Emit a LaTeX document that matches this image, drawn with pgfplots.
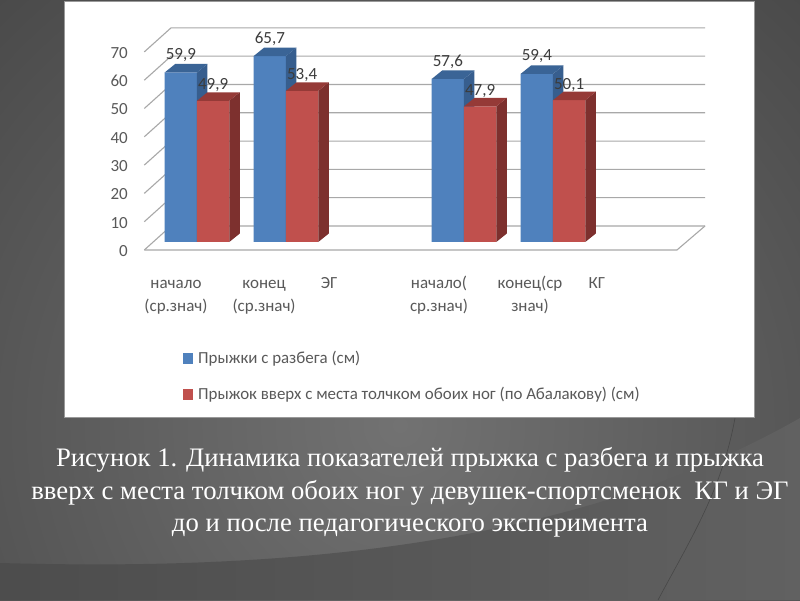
\documentclass[border=0pt]{standalone}
\usepackage{fontspec}
\setmainfont{Carlito}
\newfontfamily\capfont{Liberation Serif}
\usepackage{pgfplots}
\usepackage{pgfplotstable}
\pgfplotsset{compat=1.18}

\definecolor{bluefront}{HTML}{4F81BD}
\definecolor{bluetop}{HTML}{3A6496}
\definecolor{blueside}{HTML}{375E8E}
\definecolor{redfront}{HTML}{C0504D}
\definecolor{redtop}{HTML}{953A37}
\definecolor{redside}{HTML}{7D302E}
\definecolor{gridgray}{HTML}{A8A8A8}
\definecolor{labelgray}{HTML}{595959}
\definecolor{valuegray}{HTML}{3C3C3C}
\definecolor{bgcentre}{HTML}{727272}
\definecolor{bgedge}{HTML}{363636}

% x: group position, v: value
\pgfplotstableread{
x v
0 59.9
1 65.7
3 57.6
4 59.4
}\razbeg
\pgfplotstableread{
x v
0 49.9
1 53.4
3 47.9
4 50.1
}\abalakov

\pgfplotsset{
  face/.style={forget plot, no markers, draw=none, fill=#1, unbounded coords=jump},
  bars/.style={ybar, bar width=32.3pt, draw=none, fill=#1, nodes near coords},
}
% same first line height for all category labels
\newcommand\fl{\rule{0pt}{14pt}}

\begin{document}
\begin{tikzpicture}[x=1pt,y=1pt]
\useasboundingbox (0,0) rectangle (800,600);
\begin{scope}
  \clip (0,0) rectangle (800,600);
  \fill[bgedge] (0,0) rectangle (800,600);
  \shade[inner color=bgcentre, outer color=bgedge] (400,175) circle (880);
  % swoosh along the bottom of the slide
  \shade[left color=black!70, right color=black!62] (0,37) .. controls (250,30) and (560,45) .. (800,182) -- (800,0) -- (0,0) -- cycle;
  \draw[black!72, line width=0.6pt] (735,182) .. controls (722,110) and (690,60) .. (658,0);
\end{scope}
\fill[white] (64,182) rectangle (754.5,598);
\draw[black!40, line width=1pt] (64,182) rectangle (754.5,598);

\begin{axis}[
    at={(144.3pt,350pt)}, anchor=south west,
    scale only axis,
    x=89pt, y=2.83pt,
    xmin=-0.592, xmax=5.393,
    ymin=-2.83, ymax=76,
    clip=false,
    axis line style={draw=none},
    major tick length=0pt,
    xtick={0,0.99,1.72,2.955,3.978,4.73},
    xticklabels={{\fl начало\\(ср.знач)},{\fl конец\\(ср.знач)},{\fl ЭГ},{\fl начало(\\ср.знач)},{\fl конец(ср\\знач)},{\fl КГ}},
    x tick label style={anchor=north, align=center, xshift=-21pt, yshift=-21pt,
      text=labelgray, font=\fontsize{17}{23}\selectfont},
    ytick={0,10,...,70},
    y tick label style={yshift=-9pt, xshift=-13pt, text=labelgray, font=\fontsize{17}{20}\selectfont},
    /pgf/number format/.cd, fixed, precision=1, use comma, assume math mode=true, /pgfplots/.cd,
    nodes near coords style={anchor=center, text=valuegray,
      font=\fontsize{17}{20}\selectfont},
    legend style={at={(0.0727,-0.445)}, anchor=north west, draw=none, fill=none,
      row sep=18pt, inner sep=0pt, font=\fontsize{16.9}{20}\selectfont, text=labelgray},
    legend cell align=left,
    legend image code/.code={\fill[#1] (0pt,-5.5pt) rectangle (10pt,5.5pt);},
  ]
  % back wall, side wall and floor
  \pgfplotsinvokeforeach{0,10,...,70}{
    \draw[gridgray, line width=1.1pt] ([yshift=-8pt]axis cs:-0.592,#1) -- ([yshift=16pt]axis cs:-0.292,#1) -- ([yshift=16pt]axis cs:5.708,#1);
  }
  \draw[gridgray, line width=1.1pt] ([yshift=-8pt]axis cs:-0.592,0) -- ([yshift=-8pt]axis cs:5.393,0) -- ([yshift=16pt]axis cs:5.708,0);

  % blue bars: front, side, top
  \addplot[bars=bluefront, bar shift=-16.15pt,
    nodes near coords style={xshift=-16.15pt, yshift=17.5pt}] table[x=x, y=v] {\razbeg};
  \addlegendentry{\hspace*{3pt}Прыжки с разбега (см)}
  \addplot[face=blueside] coordinates {
    (0,0)(0.118,3)(0.118,62.9)(0,59.9) (0,nan)
    (1,0)(1.118,3)(1.118,68.7)(1,65.7) (1,nan)
    (3,0)(3.118,3)(3.118,60.6)(3,57.6) (3,nan)
    (4,0)(4.118,3)(4.118,62.4)(4,59.4)
  };
  \addplot[face=bluetop] coordinates {
    (-0.363,59.9)(0,59.9)(0.118,62.9)(-0.245,62.9) (0,nan)
    (0.637,65.7)(1,65.7)(1.118,68.7)(0.755,68.7) (1,nan)
    (2.637,57.6)(3,57.6)(3.118,60.6)(2.755,60.6) (3,nan)
    (3.637,59.4)(4,59.4)(4.118,62.4)(3.755,62.4)
  };

  % red bars: front, side, top
  \addplot[bars=redfront, bar shift=16.15pt,
    nodes near coords style={xshift=16.15pt, yshift=15.5pt}] table[x=x, y=v] {\abalakov};
  \addlegendentry{\hspace*{3pt}Прыжок вверх с места толчком обоих ног (по Абалакову) (см)}
  \addplot[face=redside] coordinates {
    (0.363,0)(0.481,3)(0.481,52.9)(0.363,49.9) (0,nan)
    (1.363,0)(1.481,3)(1.481,56.4)(1.363,53.4) (1,nan)
    (3.363,0)(3.481,3)(3.481,50.9)(3.363,47.9) (3,nan)
    (4.363,0)(4.481,3)(4.481,53.1)(4.363,50.1)
  };
  \addplot[face=redtop] coordinates {
    (0,49.9)(0.363,49.9)(0.481,52.9)(0.118,52.9) (0,nan)
    (1,53.4)(1.363,53.4)(1.481,56.4)(1.118,56.4) (1,nan)
    (3,47.9)(3.363,47.9)(3.481,50.9)(3.118,50.9) (3,nan)
    (4,50.1)(4.363,50.1)(4.481,53.1)(4.118,53.1)
  };
\end{axis}

\node[align=center, text=white, font=\capfont\fontsize{26.7}{32.5}\selectfont] at (410,107.5)
  {Рисунок 1. Динамика показателей прыжка с разбега и прыжка\\
   вверх с места толчком обоих ног у девушек-спортсменок\ \ КГ и ЭГ\\
   до и после педагогического эксперимента};
\end{tikzpicture}
\end{document}
